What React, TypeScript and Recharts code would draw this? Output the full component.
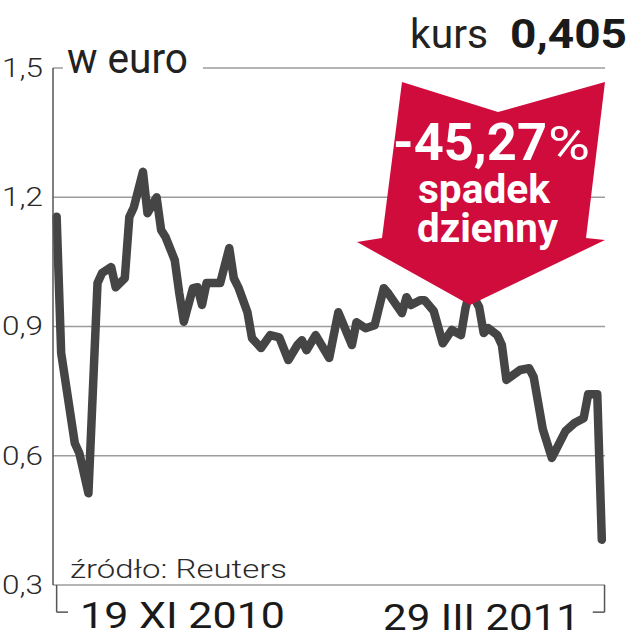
import React from 'react';
import { LineChart, Line, XAxis, YAxis, CartesianGrid, ReferenceLine } from 'recharts';

// trading-day index (from 19 XI 2010 to 29 III 2011)
const days = [0, 1, 4, 5, 7, 9, 10, 12, 13, 15, 16, 17, 19, 20, 22, 23, 24, 26, 27, 28, 30, 31, 32, 33, 36, 38, 39, 40, 42, 43, 45, 47, 49, 51, 53, 54, 55, 57, 60, 62, 65, 66, 68, 70, 72, 73, 76, 77, 78, 80, 81, 83, 85, 87, 89, 90, 91, 93, 94, 95, 97, 98, 99, 102, 104, 105, 107, 109, 112, 114, 116, 117, 119, 120];
// price in euro
const values = [1.155, 0.838, 0.629, 0.606, 0.513, 1.001, 1.024, 1.038, 0.991, 1.012, 1.154, 1.177, 1.259, 1.163, 1.2, 1.124, 1.107, 1.054, 0.977, 0.911, 0.989, 0.991, 0.95, 1.001, 1.001, 1.082, 1.012, 0.991, 0.933, 0.873, 0.85, 0.88, 0.875, 0.822, 0.857, 0.868, 0.845, 0.88, 0.827, 0.933, 0.857, 0.91, 0.896, 0.903, 0.989, 0.977, 0.931, 0.968, 0.95, 0.961, 0.961, 0.936, 0.861, 0.892, 0.88, 0.943, 0.984, 0.945, 0.885, 0.896, 0.88, 0.857, 0.776, 0.799, 0.803, 0.783, 0.662, 0.595, 0.657, 0.676, 0.687, 0.743, 0.743, 0.405];
const yTicks = [0.3, 0.6, 0.9, 1.2, 1.5];
const startLabel = '19 XI 2010';
const endLabel = '29 III 2011';
const unitLabel = 'w euro';
const sourceLabel = 'źródło: Reuters';
const changeLabel = '-45,27';
const changeText1 = 'spadek';
const changeText2 = 'dzienny';

const data = days.map((d, i) => ({ dzien: d, kurs: values[i] }));
const lastValue = values[values.length - 1].toFixed(3).replace('.', ',');
const firstDay = days[0];
const lastDay = days[days.length - 1];

const FONT = 'Roboto, "Liberation Sans", sans-serif';
const RED = '#D00C3C';

const YTick = (props: any) => {
  const { x, y, payload } = props;
  return (
    <text x={x} y={y} dy="0.355em" textAnchor="end" fontFamily={FONT} fontSize={25} fontWeight={300}
      fill="#2a2a2a" textLength={41} lengthAdjust="spacingAndGlyphs">
      {String(payload.value.toFixed(1)).replace('.', ',')}
    </text>
  );
};

export default function App() {
  const bracketY = 0.237;
  return (
    <div style={{ position: 'absolute', left: 0, top: 0, width: 629, height: 640, background: '#fff' }}>
      <LineChart width={629} height={640} data={data} margin={{ top: 68, right: 24, bottom: 55, left: 0 }}>
        <CartesianGrid vertical={false} stroke="#9c9c9c" strokeWidth={1.5} />
        <XAxis dataKey="dzien" type="number" domain={[-0.8, 120.7]} hide />
        <YAxis domain={[0.3, 1.5]} ticks={yTicks} width={53} tickLine={false} tickSize={0} tickMargin={10}
          axisLine={{ stroke: '#555', strokeWidth: 1.5 }} tick={<YTick />} interval={0} />
        <ReferenceLine ifOverflow="visible" stroke="#555" strokeWidth={1.5}
          segment={[{ x: firstDay, y: 0.3 }, { x: firstDay, y: bracketY }]} />
        <ReferenceLine ifOverflow="visible" stroke="#555" strokeWidth={1.5}
          segment={[{ x: firstDay, y: bracketY }, { x: firstDay + 2.5, y: bracketY }]} />
        <ReferenceLine ifOverflow="visible" stroke="#555" strokeWidth={1.5}
          segment={[{ x: lastDay + 0.6, y: 0.3 }, { x: lastDay + 0.6, y: bracketY }]} />
        <ReferenceLine ifOverflow="visible" stroke="#555" strokeWidth={1.5}
          segment={[{ x: lastDay - 2, y: bracketY }, { x: lastDay + 0.6, y: bracketY }]} />
        <Line type="linear" dataKey="kurs" stroke="#454545" strokeWidth={8.5} dot={false}
          strokeLinejoin="round" strokeLinecap="round" isAnimationActive={false} />
      </LineChart>
      <svg width={629} height={640} style={{ position: 'absolute', left: 0, top: 0, pointerEvents: 'none' }}>
        <rect x={63} y={54} width={140} height={24} fill="#fff" />
        <text x={67} y={73} fontFamily={FONT} fontSize={42} fill="#222" textLength={121} lengthAdjust="spacingAndGlyphs">{unitLabel}</text>
        <text x={410} y={48} fontFamily={FONT} fontSize={41} fill="#222" textLength={78} lengthAdjust="spacingAndGlyphs">kurs</text>
        <text x={510} y={48} fontFamily={FONT} fontSize={40} fontWeight={700} fill="#1a1a1a" textLength={117} lengthAdjust="spacingAndGlyphs">{lastValue}</text>
        <polygon points="402,82 498,112 605,82 586,238 605,240 470,305 357,242 382,238" fill={RED} />
        <text x={393} y={160} fontFamily={FONT} fontSize={51} fontWeight={700} fill="#fff" textLength={154} lengthAdjust="spacingAndGlyphs">{changeLabel}</text>
        <text x={548} y={160} fontFamily={FONT} fontSize={49} fontWeight={400} fill="#fff" textLength={42} lengthAdjust="spacingAndGlyphs">%</text>
        <text x={418} y={203} fontFamily={FONT} fontSize={40} fontWeight={700} fill="#fff" textLength={132} lengthAdjust="spacingAndGlyphs">{changeText1}</text>
        <text x={417} y={242} fontFamily={FONT} fontSize={40} fontWeight={700} fill="#fff" textLength={141} lengthAdjust="spacingAndGlyphs">{changeText2}</text>
        <text x={70} y={578} fontFamily={FONT} fontSize={25} fontWeight={300} fill="#2a2a2a" textLength={217} lengthAdjust="spacingAndGlyphs">{sourceLabel}</text>
        <text x={80} y={628} fontFamily={FONT} fontSize={36} fill="#1a1a1a" textLength={205} lengthAdjust="spacingAndGlyphs">{startLabel}</text>
        <text x={383} y={630} fontFamily={FONT} fontSize={36} fill="#1a1a1a" textLength={197} lengthAdjust="spacingAndGlyphs">{endLabel}</text>
      </svg>
    </div>
  );
}
